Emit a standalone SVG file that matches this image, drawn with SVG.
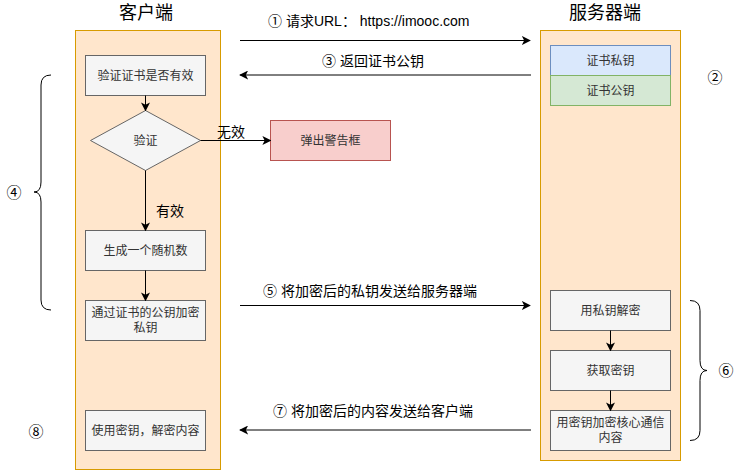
<svg xmlns="http://www.w3.org/2000/svg" width="741" height="471" viewBox="0 0 741 471">
<defs>
<style>
text{font-family:"Liberation Sans","Noto Sans CJK SC",sans-serif;}
.box{fill:#f5f5f5;stroke:#666666;stroke-width:1;}
.bt{font-size:12px;fill:#333333;text-anchor:middle;dominant-baseline:central;}
.lbl{font-size:14px;fill:#000000;}
.title{font-size:18px;fill:#000000;text-anchor:middle;dominant-baseline:central;}
.num{font-size:15px;fill:#000000;text-anchor:middle;dominant-baseline:central;}
.edge{stroke:#000000;stroke-width:1;fill:none;}
.cont{fill:#ffe6cc;stroke:#d79b00;stroke-width:1;}
</style>
<marker id="arr" viewBox="0 0 10 10" refX="9" refY="5" markerWidth="9" markerHeight="9" markerUnits="userSpaceOnUse" orient="auto">
<path d="M0,0 L10,5 L0,10 L2.5,5 Z" fill="#000000"/>
</marker>
</defs>
<rect width="741" height="471" fill="#ffffff"/>

<g id="client">
<rect class="cont" x="75.5" y="30.5" width="145" height="439"/>
<text class="title" x="146" y="13">客户端</text>
</g>
<g id="server">
<rect class="cont" x="540.5" y="30.5" width="140" height="430"/>
<text class="title" x="605" y="13">服务器端</text>
</g>

<g id="verify-cert"><rect class="box" x="85.5" y="55.5" width="120" height="40"/><text class="bt" x="145.5" y="75.5">验证证书是否有效</text></g>
<g id="verify"><path class="box" d="M145.5,110.5 L200.5,140.5 L145.5,170.5 L90.5,140.5 Z"/><text class="bt" x="145.5" y="140.5">验证</text></g>
<g id="alert"><rect x="270.5" y="120.5" width="120" height="40" fill="#f8cecc" stroke="#b85450"/><text class="bt" x="330.5" y="140.5">弹出警告框</text></g>
<g id="random"><rect class="box" x="85.5" y="230.5" width="120" height="40"/><text class="bt" x="145.5" y="250.5">生成一个随机数</text></g>
<g id="encrypt-key"><rect class="box" x="85.5" y="300.5" width="120" height="40"/><text class="bt" x="145.5" y="313">通过证书的公钥加密</text><text class="bt" x="145.5" y="328">私钥</text></g>
<g id="decrypt-content"><rect class="box" x="85.5" y="410.5" width="120" height="40"/><text class="bt" x="145.5" y="430.5">使用密钥，解密内容</text></g>

<g id="private-key"><rect x="550.5" y="45.5" width="120" height="30" fill="#dae8fc" stroke="#6c8ebf"/><text class="bt" x="610.5" y="60.5">证书私钥</text></g>
<g id="public-key"><rect x="550.5" y="75.5" width="120" height="30" fill="#d5e8d4" stroke="#82b366"/><text class="bt" x="610.5" y="90.5">证书公钥</text></g>
<g id="decrypt-private"><rect class="box" x="550.5" y="290.5" width="120" height="40"/><text class="bt" x="610.5" y="310.5">用私钥解密</text></g>
<g id="get-key"><rect class="box" x="550.5" y="350.5" width="120" height="40"/><text class="bt" x="610.5" y="370.5">获取密钥</text></g>
<g id="encrypt-content"><rect class="box" x="550.5" y="410.5" width="120" height="40"/><text class="bt" x="610.5" y="423">用密钥加密核心通信</text><text class="bt" x="610.5" y="438">内容</text></g>

<g id="connectors">
<line class="edge" x1="145.5" y1="95.5" x2="145.5" y2="110.5" marker-end="url(#arr)"/>
<line class="edge" x1="145.5" y1="170.5" x2="145.5" y2="230.5" marker-end="url(#arr)"/>
<line class="edge" x1="145.5" y1="270.5" x2="145.5" y2="300.5" marker-end="url(#arr)"/>
<line class="edge" x1="200.5" y1="140.5" x2="270.5" y2="140.5" marker-end="url(#arr)"/>
<line class="edge" x1="610.5" y1="330.5" x2="610.5" y2="350.5" marker-end="url(#arr)"/>
<line class="edge" x1="610.5" y1="390.5" x2="610.5" y2="410.5" marker-end="url(#arr)"/>
<line class="edge" x1="240" y1="40.5" x2="530" y2="40.5" marker-end="url(#arr)"/>
<line class="edge" x1="531" y1="75" x2="240" y2="75" marker-end="url(#arr)"/>
<line class="edge" x1="240" y1="305.5" x2="530" y2="305.5" marker-end="url(#arr)"/>
<line class="edge" x1="531" y1="430" x2="240" y2="430" marker-end="url(#arr)"/>
<path class="edge" d="M51,75 Q41,75 41,85 L41,182 Q41,192 34,192 Q41,192 41,202 L41,300 Q41,310 51,310"/>
<path class="edge" d="M690,300.5 Q700,300.5 700,310.5 L700,360.5 Q700,370.5 707,370.5 Q700,370.5 700,380.5 L700,430.5 Q700,440.5 690,440.5"/>
</g>

<g id="labels">
<text class="lbl" x="268" y="26">① 请求URL： https://imooc.com</text>
<text class="lbl" x="322" y="66">③ 返回证书公钥</text>
<text class="lbl" x="263" y="296">⑤ 将加密后的私钥发送给服务器端</text>
<text class="lbl" x="273" y="416">⑦ 将加密后的内容发送给客户端</text>
<text class="lbl" x="217" y="137">无效</text>
<text class="lbl" x="156" y="216">有效</text>
<text class="num" x="14" y="192">④</text>
<text class="num" x="715" y="77">②</text>
<text class="num" x="726" y="370">⑥</text>
<text class="num" x="36" y="431">⑧</text>
</g>
</svg>
